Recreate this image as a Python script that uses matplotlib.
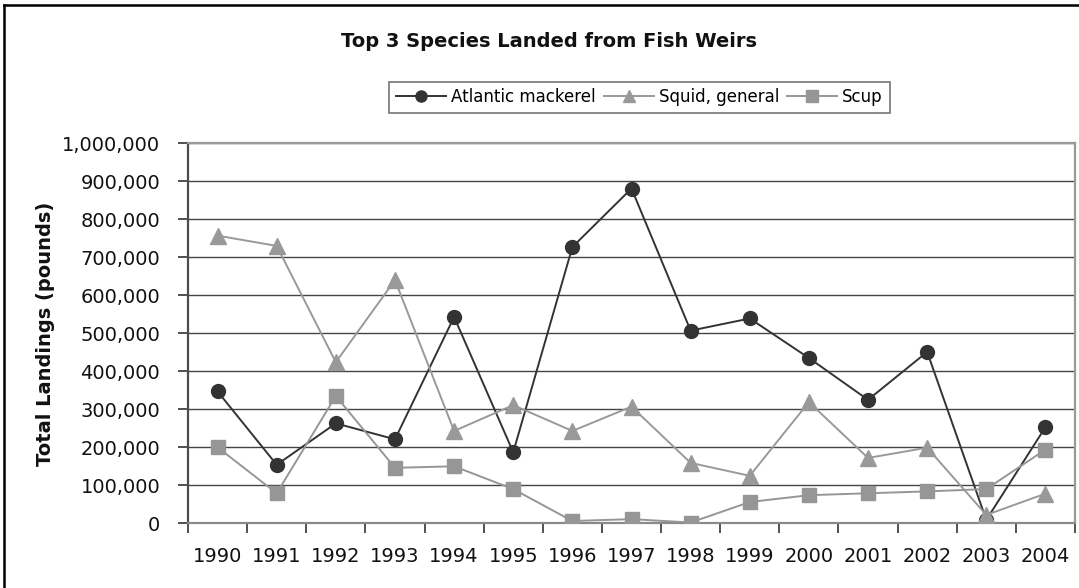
import matplotlib
matplotlib.use("Agg")
import matplotlib.pyplot as plt
from matplotlib.lines import Line2D
from matplotlib.ticker import FuncFormatter, FixedLocator

years = ["1990", "1991", "1992", "1993", "1994", "1995", "1996", "1997",
         "1998", "1999", "2000", "2001", "2002", "2003", "2004"]
mackerel = [347000, 154000, 263000, 221000, 543000, 187000, 727000, 881000,
            507000, 539000, 435000, 325000, 451000, 9000, 253000]
squid = [757000, 730000, 424000, 640000, 243000, 311000, 243000, 307000,
         159000, 125000, 319000, 172000, 199000, 22000, 78000]
scup = [200000, 79000, 335000, 146000, 150000, 90000, 6000, 11000,
        2000, 56000, 74000, 79000, 84000, 90000, 194000]

plt.rcParams['font.family'] = ['DejaVu Sans']

W, H = 1079, 588
fig = plt.figure(figsize=(W / 100, H / 100), dpi=100)
left, right, top, bottom = 188, 1075, 143.3, 523.3
ax = fig.add_axes([left / W, 1 - bottom / H, (right - left) / W, (bottom - top) / H])

x = list(range(len(years)))
ax.plot(x, mackerel, color='#333333', lw=1.4, marker='o', ms=10,
        mfc='#333333', mec='#333333', label='Atlantic mackerel', zorder=3)
ax.plot(x, squid, color='#999999', lw=1.4, marker='^', ms=11,
        mfc='#999999', mec='#999999', label='Squid, general', zorder=4)
ax.plot(x, scup, color='#969696', lw=1.4, marker='s', ms=10,
        mfc='#969696', mec='#969696', label='Scup', zorder=5)

ax.set_xlim(-0.5, len(years) - 0.5)
ax.set_ylim(0, 1000000)
ax.set_xticks(x)
ax.set_xticklabels(years)
ax.xaxis.set_minor_locator(FixedLocator([i - 0.5 for i in range(len(years) + 1)]))
ax.tick_params(axis='x', which='major', length=0, pad=17, labelsize=14, labelcolor='#111111')
ax.tick_params(axis='x', which='minor', length=7, width=1.2, color='#333333', direction='out')

ax.set_yticks(range(0, 1000001, 100000))
ax.yaxis.set_major_formatter(FuncFormatter(lambda v, p: f"{int(v):,}"))
ax.tick_params(axis='y', length=7, width=1.2, color='#333333', pad=13,
               labelsize=14, labelcolor='#111111', direction='out')

ax.grid(axis='y', color='#444444', lw=1.0, zorder=1)
ax.set_axisbelow(True)

for s in ['top', 'right']:
    ax.spines[s].set_color('#9a9a9a')
    ax.spines[s].set_linewidth(1.6)
ax.spines['left'].set_color('#4d4d4d')
ax.spines['left'].set_linewidth(1.6)
ax.spines['bottom'].set_color('#8a8a8a')
ax.spines['bottom'].set_linewidth(1.6)

leg = fig.legend(loc='upper left', bbox_to_anchor=(380.7 / W, 1 - 73.3 / H),
                 ncol=3, fontsize=12, handlelength=3.0, handletextpad=0.3,
                 columnspacing=0.5, borderpad=0.4, markerscale=0.8,
                 frameon=True, fancybox=False)
leg.get_frame().set_edgecolor('#444444')
leg.get_frame().set_linewidth(1.1)

fig.text(549 / W, 1 - 46.7 / H, "Top 3 Species Landed from Fish Weirs",
         ha='center', va='baseline', fontsize=14, fontweight='bold', color='#111111')
fig.text(46 / W, 1 - 334 / H, "Total Landings (pounds)", rotation=90,
         ha='center', va='center', fontsize=14, fontweight='bold', color='#111111')

# outer chart border (top and left visible)
fig.add_artist(Line2D([4 / W, 4 / W], [0, 1 - 4.5 / H], transform=fig.transFigure,
                      color='black', lw=1.8))
fig.add_artist(Line2D([4 / W, 1], [1 - 4.5 / H, 1 - 4.5 / H], transform=fig.transFigure,
                      color='black', lw=1.8))

fig.savefig("out.png", dpi=100)
